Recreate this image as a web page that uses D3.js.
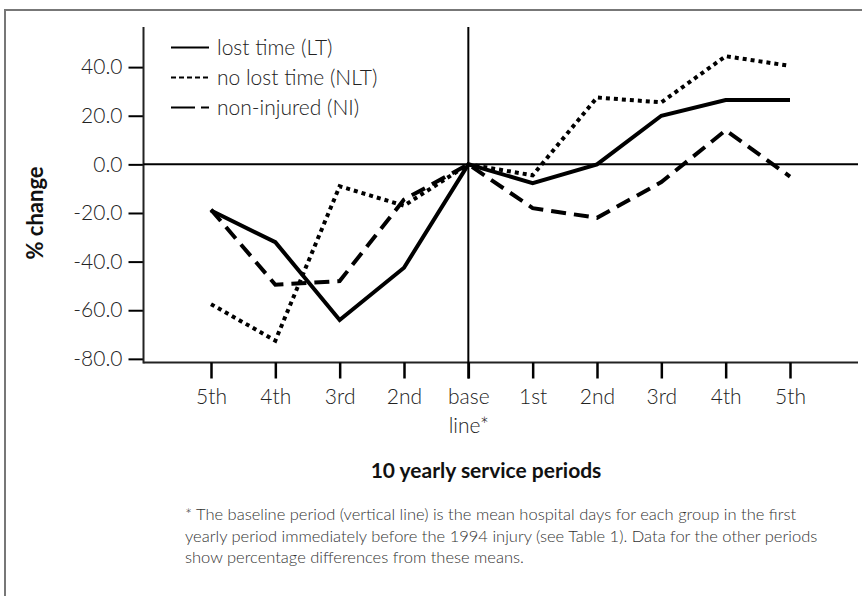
<!DOCTYPE html>
<html><head><meta charset="utf-8">
<script src="https://cdn.jsdelivr.net/npm/d3@7"></script>
<style>body{margin:0;background:#fff}svg{display:block}</style>
</head><body>
<script>
const periods = ["5th","4th","3rd","2nd","base","1st","2nd ","3rd ","4th ","5th "];
const periodLabels = [["5th"],["4th"],["3rd"],["2nd"],["base","line*"],["1st"],["2nd"],["3rd"],["4th"],["5th"]];
const lostTime   = [-19, -32, -64, -42.5, 0, -7.7, 0, 20, 26.5, 26.5];
const noLostTime = [-57.5, -72.5, -9, -17, 0, -4.5, 27.5, 25.5, 44.5, 40.5];
const nonInjured = [-18.6, -49.5, -48, -14.5, 0, -18, -22, -7.3, 14, -5];
const yTicks = [40, 20, 0, -20, -40, -60, -80];
const seriesNames = ["lost time (LT)", "no lost time (NLT)", "non-injured (NI)"];
const footnote = [
 "* The baseline period (vertical line) is the mean hospital days for each group in the first",
 "yearly period immediately before the 1994 injury (see Table 1). Data for the other periods",
 "show percentage differences from these means."
];

const W = 862, H = 596;
const svg = d3.select("body").append("svg").attr("width", W).attr("height", H);
const font = "Lato, 'Open Sans', sans-serif";

// frame (top and left border visible)
svg.append("rect").attr("x",5).attr("y",10).attr("width",W+20).attr("height",H+20)
  .attr("fill","none").attr("stroke","#777").attr("stroke-width",2);

const x = d3.scalePoint().domain(periods).range([211, 790]);
const y = d3.scaleLinear().domain([-81.5, 56.5]).range([362.5, 27]);
const left = 143.5, right = 858;

// axes
const fmt = d => d3.format(".1f")(d).replace("\u2212","-");
const yAxis = svg.append("g").attr("transform", `translate(${left},0)`)
  .call(d3.axisLeft(y).tickValues(yTicks).tickSize(15).tickPadding(6).tickFormat(fmt));
yAxis.select(".domain").remove();
yAxis.selectAll("line").attr("stroke","#000").attr("stroke-width",2);
yAxis.selectAll("text").attr("font-family",font).attr("font-weight",300).attr("font-size",21).attr("fill","#222");

svg.append("line").attr("x1",left).attr("x2",left).attr("y1",27).attr("y2",y(-81.5)+1)
  .attr("stroke","#222").attr("stroke-width",2);
svg.append("line").attr("x1",left).attr("x2",right).attr("y1",y(-81.5)).attr("y2",y(-81.5))
  .attr("stroke","#222").attr("stroke-width",2);

const xAxis = svg.append("g").attr("transform", `translate(0,${y(-81.5)})`)
  .call(d3.axisBottom(x).tickSize(16).tickFormat(""));
xAxis.select(".domain").remove();
xAxis.selectAll("line").attr("stroke","#000").attr("stroke-width",2.5);
xAxis.selectAll(".tick").each(function(d,i){
  const t = d3.select(this).append("text").attr("font-family",font).attr("font-weight",300)
    .attr("font-size",21).attr("fill","#222").attr("text-anchor","middle");
  periodLabels[i].forEach((s,j)=>t.append("tspan").attr("x",0).attr("y",41+j*29).text(s));
});

// zero line and baseline vertical line
svg.append("line").attr("x1",left).attr("x2",right).attr("y1",y(0)).attr("y2",y(0))
  .attr("stroke","#000").attr("stroke-width",2);
svg.append("line").attr("x1",x("base")).attr("x2",x("base")).attr("y1",27).attr("y2",y(-81.5)+16)
  .attr("stroke","#000").attr("stroke-width",2);

// series
const line = d3.line().x((d,i)=>x(periods[i])).y(d=>y(d));
const styles = [
  {data: lostTime, dash: null},
  {data: noLostTime, dash: "4,4"},
  {data: nonInjured, dash: "15,8"}
];
styles.forEach(s=>{
  svg.append("path").datum(s.data).attr("d", line).attr("fill","none")
    .attr("stroke","#000").attr("stroke-width",4).attr("stroke-linejoin","miter")
    .attr("stroke-dasharray", s.dash);
});

// legend
const legDash = [null, "5,3", "24,6,8,40"];
seriesNames.forEach((n,i)=>{
  const ly = 47.5 + i*30;
  svg.append("line").attr("x1",171).attr("x2",209).attr("y1",ly).attr("y2",ly)
    .attr("stroke","#000").attr("stroke-width",2).attr("stroke-dasharray",legDash[i]);
  svg.append("text").attr("x",217).attr("y",ly+7).attr("font-family",font).attr("font-weight",300)
    .attr("font-size",21).attr("fill","#222").text(n);
});

// y title
svg.append("text").attr("transform",`translate(43,213) rotate(-90)`).attr("text-anchor","middle")
  .attr("font-family",font).attr("font-weight",700).attr("font-size",22).attr("fill","#111").text("% change");

// x title
svg.append("text").attr("x",486).attr("y",478).attr("text-anchor","middle")
  .attr("font-family",font).attr("font-weight",700).attr("font-size",21).attr("fill","#111")
  .text("10 yearly service periods");

// footnote
footnote.forEach((s,i)=>{
  svg.append("text").attr("x",185).attr("y",520+i*21.5).attr("font-family",font).attr("font-weight",300)
    .attr("font-size",16.5).attr("fill","#333").text(s);
});
</script>
</body></html>
